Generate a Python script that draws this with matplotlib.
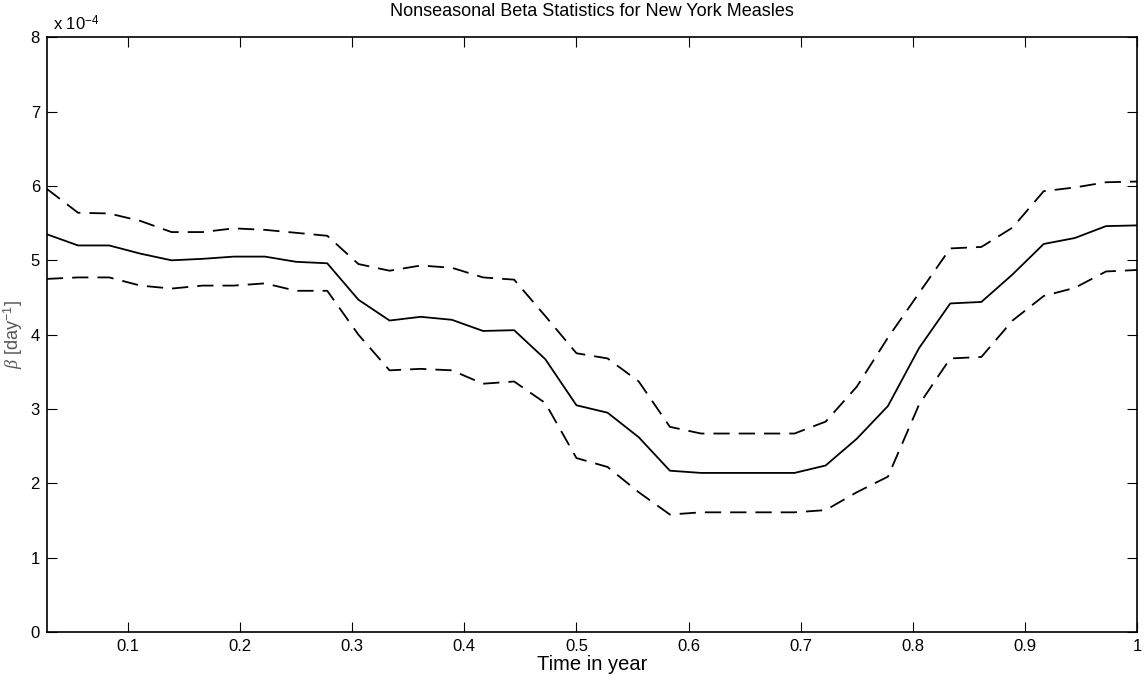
import numpy as np
import matplotlib
matplotlib.use("Agg")
import matplotlib.pyplot as plt

plt.rcParams["font.family"] = ["Liberation Sans", "DejaVu Sans"]
plt.rcParams["mathtext.fontset"] = "custom"
plt.rcParams["mathtext.rm"] = "Liberation Sans"
plt.rcParams["mathtext.it"] = "Liberation Serif:italic"

# time points: k/36 of a year
t = np.arange(1, 37) / 36.0

beta_mean = [
    5.35, 5.20, 5.20, 5.09, 5.00, 5.02, 5.05, 5.05, 4.98, 4.96,
    4.47, 4.19, 4.24, 4.20, 4.05, 4.06, 3.67, 3.05, 2.95, 2.62,
    2.17, 2.14, 2.14, 2.14, 2.14, 2.24, 2.60, 3.04, 3.82, 4.42,
    4.44, 4.81, 5.22, 5.30, 5.46, 5.47,
]

beta_upper = [
    5.96, 5.64, 5.63, 5.53, 5.38, 5.38, 5.43, 5.41, 5.37, 5.33,
    4.95, 4.86, 4.93, 4.90, 4.77, 4.74, 4.25, 3.75, 3.68, 3.37,
    2.76, 2.67, 2.67, 2.67, 2.67, 2.83, 3.30, 3.96, 4.56, 5.16,
    5.18, 5.44, 5.93, 5.98, 6.05, 6.06,
]

beta_lower = [
    4.75, 4.77, 4.77, 4.66, 4.62, 4.66, 4.66, 4.69, 4.59, 4.59,
    4.00, 3.52, 3.54, 3.52, 3.34, 3.37, 3.08, 2.34, 2.22, 1.88,
    1.58, 1.61, 1.61, 1.61, 1.61, 1.64, 1.88, 2.09, 3.06, 3.68,
    3.70, 4.19, 4.52, 4.63, 4.85, 4.87,
]

x_ticks = [0.1, 0.2, 0.3, 0.4, 0.5, 0.6, 0.7, 0.8, 0.9, 1.0]
x_tick_labels = ["0.1", "0.2", "0.3", "0.4", "0.5", "0.6", "0.7", "0.8", "0.9", "1"]
y_ticks = [0, 1, 2, 3, 4, 5, 6, 7, 8]

fig = plt.figure(figsize=(11.44, 6.82), dpi=100)
ax = fig.add_axes([0.041, 0.0733, 0.953, 0.872])

ax.plot(t, beta_mean, color="black", lw=1.3)
ax.plot(t, beta_upper, color="black", lw=1.3, dashes=(9, 5))
ax.plot(t, beta_lower, color="black", lw=1.3, dashes=(9, 5))

ax.set_xlim(t[0], 1.0)
ax.set_ylim(0, 8)
ax.set_xticks(x_ticks)
ax.set_xticklabels(x_tick_labels)
ax.set_yticks(y_ticks)

ax.tick_params(direction="in", top=True, right=True, length=7,
               width=0.8, labelsize=12, pad=5)
for s in ax.spines.values():
    s.set_linewidth(1.2)

ax.text(0.006, 1.006, r"x 10$^{-4}$", transform=ax.transAxes,
        ha="left", va="bottom", fontsize=12)

ax.set_title("Nonseasonal Beta Statistics for New York Measles",
             fontsize=13, pad=15)
ax.set_xlabel("Time in year", fontsize=14.5, labelpad=1)
ax.set_ylabel(r"$\beta$ [day$^{-1}$]", fontsize=13, color="#555555",
              labelpad=4)

fig.savefig("out.png", dpi=100)
